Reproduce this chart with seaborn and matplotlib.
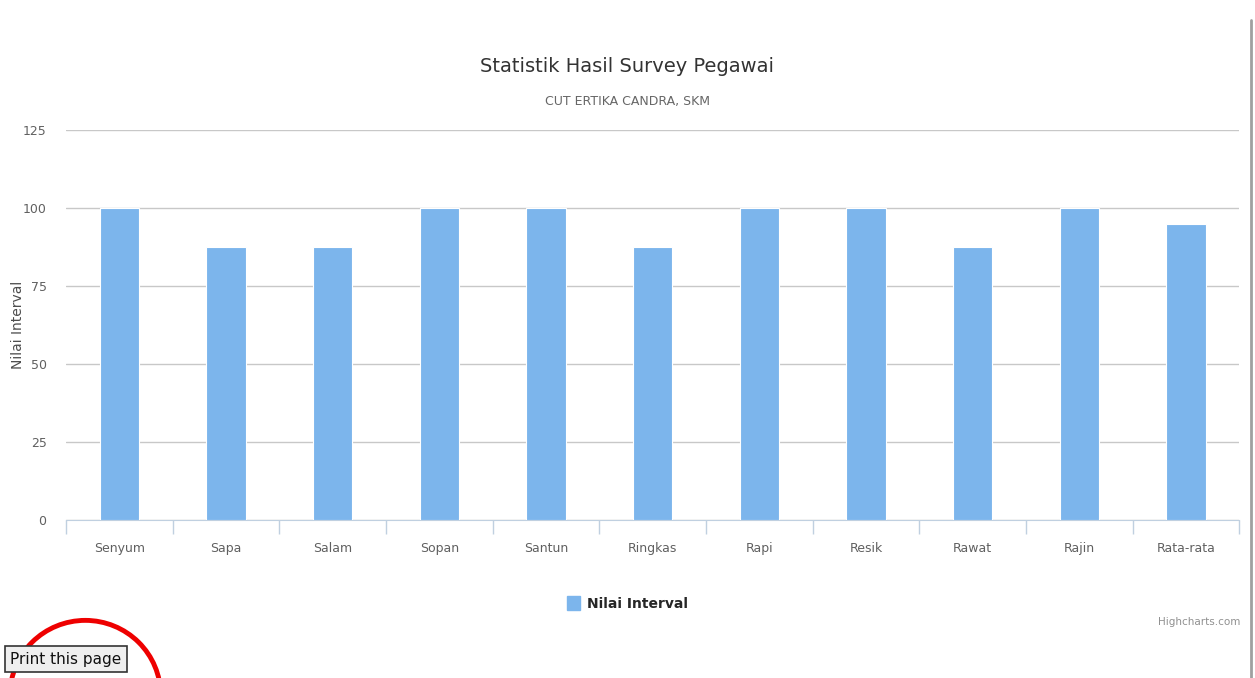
import pandas as pd
import matplotlib.pyplot as plt
import seaborn as sns
from matplotlib.patches import Ellipse, Patch

# data
categories = ['Senyum', 'Sapa', 'Salam', 'Sopan', 'Santun', 'Ringkas',
              'Rapi', 'Resik', 'Rawat', 'Rajin', 'Rata-rata']
values = [100, 87.5, 87.5, 100, 100, 87.5, 100, 100, 87.5, 100, 95]
y_ticks = [0, 25, 50, 75, 100, 125]

df = pd.DataFrame({'kategori': categories, 'nilai': values})

sns.set_style('white')
plt.rcParams['font.family'] = ['DejaVu Sans']

fig = plt.figure(figsize=(12.55, 6.78), dpi=100)
ax = fig.add_axes([0.0526, 0.233, 0.935, 0.575])

sns.barplot(data=df, x='kategori', y='nilai', color='#7cb5ec', width=0.37,
            saturation=1, edgecolor='white', linewidth=0.8, ax=ax, zorder=3)

ax.set_ylim(0, 125)
ax.set_xlim(-0.5, len(categories) - 0.5)
ax.set_yticks(y_ticks)
ax.set_yticklabels([str(t) for t in y_ticks], color='#606060', fontsize=9)
ax.yaxis.grid(True, color='#c8c8c8', linewidth=1, zorder=0)
ax.tick_params(axis='y', length=0, pad=14)

# category boundaries as tick marks, labels at centers
ax.set_xticks([i for i in range(len(categories))])
ax.set_xticklabels(categories, color='#606060', fontsize=9)
ax.tick_params(axis='x', which='major', length=0, pad=16)
ax.set_xticks([i - 0.5 for i in range(len(categories) + 1)], minor=True)
ax.tick_params(axis='x', which='minor', bottom=True, length=10,
               color='#c0d0e0', width=1)

for s in ['top', 'right', 'left']:
    ax.spines[s].set_visible(False)
ax.spines['bottom'].set_color('#c0d0e0')

ax.set_xlabel('')
ax.set_ylabel('Nilai Interval', color='#4d4d4d', fontsize=10)
ax.yaxis.set_label_coords(-0.035, 0.5)

fig.text(0.5, 0.902, 'Statistik Hasil Survey Pegawai', ha='center',
         va='center', fontsize=14, color='#333333')
fig.text(0.5, 0.850, 'CUT ERTIKA CANDRA, SKM', ha='center', va='center',
         fontsize=9, color='#666666')

fig.legend(handles=[Patch(color='#7cb5ec', label='Nilai Interval')],
           loc='center', bbox_to_anchor=(0.5, 0.11), frameon=False,
           handlelength=0.9, handleheight=1.1, handletextpad=0.5,
           prop={'weight': 'bold', 'size': 10})
fig.text(0.988, 0.083, 'Highcharts.com', ha='right', va='center',
         fontsize=7.5, color='#909090')

# right border line of the page
fig.add_artist(plt.Line2D([0.9965, 0.9965], [0.0, 0.97], color='#a0a0a0',
                          linewidth=2, transform=fig.transFigure))

# "Print this page" button with red circle
fig.text(0.008, 0.028, 'Print this page', ha='left', va='center',
         fontsize=11, color='#111111',
         bbox=dict(boxstyle='square,pad=0.35', facecolor='#efefef',
                   edgecolor='#333333', linewidth=1.2))
fig.add_artist(Ellipse((0.068, -0.025), 0.12, 0.22, transform=fig.transFigure,
                       fill=False, edgecolor='#ee0000', linewidth=3.5))

fig.savefig('out.png', dpi=100)
